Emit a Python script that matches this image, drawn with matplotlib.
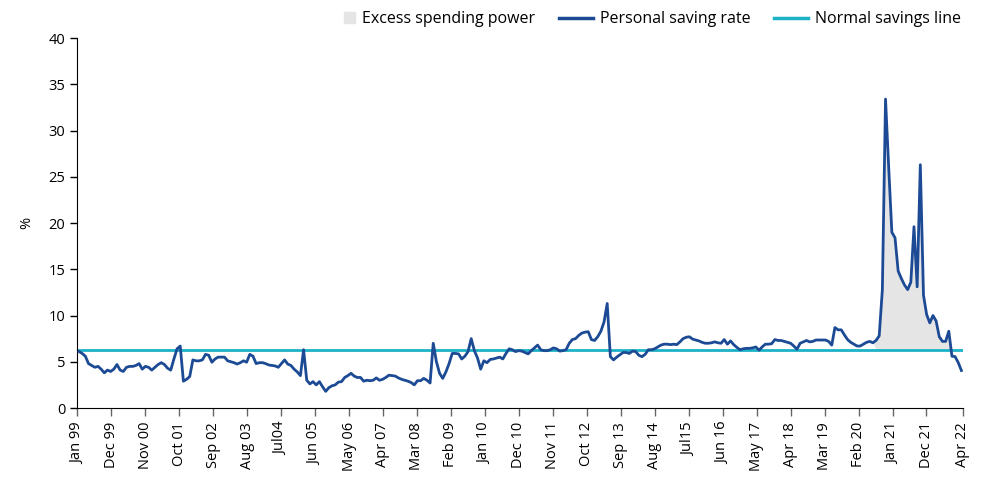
import numpy as np
import pandas as pd
import matplotlib
matplotlib.use("Agg")
import matplotlib.pyplot as plt
from matplotlib.lines import Line2D
from matplotlib.patches import Patch, Rectangle
from matplotlib.legend_handler import HandlerPatch

plt.rcParams['font.family'] = ['Open Sans', 'DejaVu Sans']

# US personal saving rate, monthly, Jan 1999 - Apr 2022 (%)
rate_1999_2002 = [6.1, 5.9, 5.6, 4.8, 4.6, 4.4, 4.5, 4.2, 3.8, 4.1,
                  3.95, 4.2, 4.7, 4.1, 3.95, 4.4, 4.5, 4.5, 4.6, 4.8,
                  4.2, 4.5, 4.4, 4.1, 4.4, 4.7, 4.9, 4.7, 4.3, 4.1,
                  5.3, 6.4, 6.7, 2.9, 3.1, 3.4, 5.2, 5.1, 5.1, 5.2,
                  5.8, 5.7, 4.95, 5.3, 5.5, 5.5]
rate_2002_2006 = [5.5, 5.1, 5.0, 4.9, 4.75, 4.9, 5.1, 4.95, 5.8, 5.6,
                  4.8, 4.9, 4.9, 4.8, 4.65, 4.6, 4.55, 4.4, 4.8, 5.2,
                  4.75, 4.6, 4.2, 3.9, 3.5, 6.3, 3.0, 2.6, 2.85, 2.5,
                  2.85, 2.3, 1.8, 2.2, 2.4, 2.5, 2.8, 2.85, 3.3, 3.5,
                  3.75, 3.45, 3.3, 3.3, 2.9, 3.0, 2.95]
rate_2006_2010 = [3.0, 3.25, 3.0, 3.1, 3.3, 3.55, 3.5, 3.45, 3.25, 3.1,
                  3.0, 2.9, 2.75, 2.5, 2.95, 2.95, 3.2, 3.0, 2.7, 7.0,
                  5.0, 3.75, 3.2, 3.9, 4.8, 5.9, 5.9, 5.85, 5.3, 5.6,
                  6.1, 7.5, 6.2, 5.4, 4.2, 5.1, 4.9, 5.25, 5.3, 5.4,
                  5.5, 5.3, 5.9, 6.4, 6.3]
rate_2010_2014 = [6.1, 6.2, 6.15, 6.0, 5.85, 6.2, 6.5, 6.8, 6.3, 6.2,
                  6.2, 6.3, 6.5, 6.4, 6.15, 6.2, 6.3, 7.0, 7.4, 7.5,
                  7.85, 8.1, 8.2, 8.25, 7.4, 7.3, 7.7, 8.3, 9.3, 11.3,
                  5.55, 5.2, 5.5, 5.75, 6.0, 6.0, 5.9, 6.15, 6.1, 5.7,
                  5.55, 5.8, 6.3, 6.3, 6.4, 6.6]
rate_2014_2018 = [6.8, 6.9, 6.9, 6.85, 6.9, 6.85, 7.15, 7.5, 7.65, 7.7,
                  7.45, 7.35, 7.25, 7.1, 7.0, 7.0, 7.05, 7.15, 7.05, 7.0,
                  7.4, 6.9, 7.25, 6.85, 6.55, 6.3, 6.4, 6.45, 6.45, 6.5,
                  6.6, 6.25, 6.6, 6.9, 6.9, 6.95, 7.4, 7.3, 7.3, 7.2,
                  7.1, 7.0, 6.7, 6.35, 7.0, 7.15]
rate_2018_2022 = [7.3, 7.15, 7.2, 7.35, 7.35, 7.35, 7.35, 7.2, 6.8, 8.7,
                  8.45, 8.45, 7.9, 7.4, 7.1, 6.9, 6.7, 6.7, 6.9, 7.1,
                  7.2, 7.05, 7.3, 7.8, 12.8, 33.4, 26.0, 19.0, 18.4, 14.8,
                  14.0, 13.3, 12.8, 13.6, 19.6, 13.1, 26.3, 12.2, 10.1, 9.2,
                  10.0, 9.4, 7.7, 7.2, 7.2, 8.3, 5.6, 5.55, 4.9, 4.05]

normal_rate = 6.3
excess_from = "2020-01"

tick_labels = ["Jan 99", "Dec 99", "Nov 00", "Oct 01", "Sep 02", "Aug 03",
               "Jul04", "Jun 05", "May 06", "Apr 07", "Mar 08", "Feb 09",
               "Jan 10", "Dec 10", "Nov 11", "Oct 12", "Sep 13", "Aug 14",
               "Jul15", "Jun 16", "May 17", "Apr 18", "Mar 19", "Feb 20",
               "Jan 21", "Dec 21", "Apr 22"]

saving_rate = np.array(rate_1999_2002 + rate_2002_2006 + rate_2006_2010
                       + rate_2010_2014 + rate_2014_2018 + rate_2018_2022)
dates = pd.date_range("1999-01-01", periods=len(saving_rate), freq="MS")
x = np.arange(len(saving_rate))

navy = "#1c4a94"
teal = "#1cb2c6"
grey = "#e5e5e5"


def square_at_right(legend, orig_handle, xdescent, ydescent, width, height, fontsize):
    s = height * 0.95
    return Rectangle((width - xdescent - s, -ydescent + (height - s) / 2), s, s)


fig = plt.figure(figsize=(9.87, 4.8), dpi=100)
ax = fig.add_axes([0.0783, 0.15, 0.8974, 0.7708])

in_window = dates >= pd.Timestamp(excess_from)
ax.fill_between(x, saving_rate, normal_rate,
                where=in_window & (saving_rate >= normal_rate),
                interpolate=True, color=grey, linewidth=0, zorder=1)
ax.axhline(normal_rate, color=teal, lw=2.0, zorder=2)
ax.plot(x, saving_rate, color=navy, lw=2.0, zorder=3)

xmin, xmax = -0.55, 279.5
ax.set_xlim(xmin, xmax)
ax.set_ylim(0, 40)
step = 10.74
ticks = [xmin + k * step for k in range(len(tick_labels) - 1)] + [xmax - 0.1]
ax.set_xticks(ticks)
ax.set_xticklabels(tick_labels, rotation=90, fontsize=10.5)
ax.set_yticks(np.arange(0, 41, 5))
ax.tick_params(axis='y', labelsize=10.5, length=5, width=1)
ax.tick_params(axis='x', length=6, width=1, color="#666666", pad=4)
ax.set_ylabel("%", fontsize=10.5, labelpad=10)

for side in ("top", "right"):
    ax.spines[side].set_visible(False)
ax.spines["left"].set_color("black")
ax.spines["bottom"].set_color("black")

handles = [
    Patch(color=grey),
    Line2D([], [], color=navy, lw=2.5),
    Line2D([], [], color=teal, lw=2.5),
]
labels = ["Excess spending power", "Personal saving rate", "Normal savings line"]
ax.legend(handles, labels, ncol=3, loc="lower right",
          bbox_to_anchor=(1.005, 1.012), frameon=False, fontsize=11.5,
          handlelength=2.1, columnspacing=1.5, handletextpad=0.45,
          borderaxespad=0,
          handler_map={Patch: HandlerPatch(patch_func=square_at_right)})

fig.savefig("out.png", dpi=100)
